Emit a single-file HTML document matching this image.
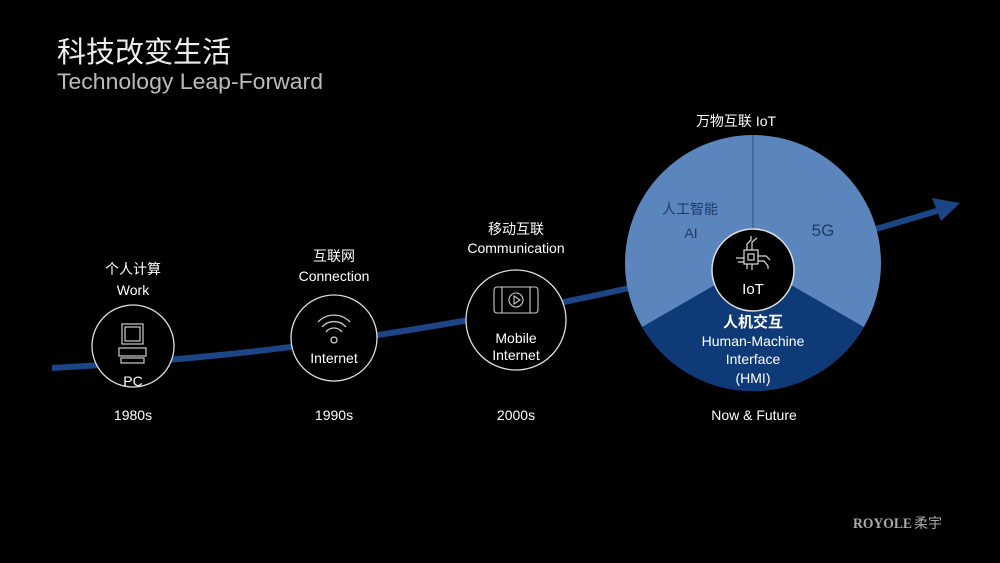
<!DOCTYPE html>
<html><head><meta charset="utf-8"><style>
html,body{margin:0;padding:0;background:#000;}
svg{display:block}
text{font-family:"Liberation Sans","Noto Sans CJK SC",sans-serif;}
</style></head><body>
<svg width="1000" height="563" viewBox="0 0 1000 563" xmlns="http://www.w3.org/2000/svg">
<rect width="1000" height="563" fill="#000"/>
<text x="57" y="62" font-size="29" fill="#eee">科技改变生活</text>
<text x="57" y="89" font-size="22.5" fill="#bbb" textLength="266" lengthAdjust="spacingAndGlyphs">Technology Leap-Forward</text>

<!-- curve -->
<path d="M52 368 C 200 360, 330 345, 480 318 S 700 270, 760 258 S 880 228, 940 210" fill="none" stroke="#1b4585" stroke-width="6"/>
<polygon points="960,203 932,198 941,221" fill="#1b4585"/>

<!-- big circle -->
<circle cx="753" cy="263" r="128" fill="#5b86bd"/>
<path d="M753 263 L864 327 A128 128 0 0 1 642 327 Z" fill="#0f3a78"/>
<line x1="753" y1="135" x2="753" y2="263" stroke="#34507a" stroke-width="1"/>
<circle cx="753" cy="270" r="41" fill="#000" stroke="#ddd" stroke-width="1.5"/>
<g stroke="#ddd" fill="none" stroke-width="1.2">
<rect x="744" y="250" width="14" height="14"/>
<rect x="748" y="254" width="6" height="6"/>
<path d="M747 250v-6l4-4v-4M752 250v-8l5-4M758 256h8l4 4M758 261h6l4 5v3M752 264v6M744 258h-8M744 262h-6M747 264v5"/>
</g>
<text x="753" y="294" font-size="15" fill="#fff" text-anchor="middle">IoT</text>
<text x="690" y="214" font-size="14" fill="#1f3a66" text-anchor="middle">人工智能</text>
<text x="691" y="238" font-size="14" fill="#1f3a66" text-anchor="middle">AI</text>
<text x="823" y="236" font-size="17" fill="#1f3a66" text-anchor="middle">5G</text>
<text x="753" y="327" font-size="15" fill="#fff" text-anchor="middle" font-weight="bold">人机交互</text>
<text x="753" y="346" font-size="14" fill="#fff" text-anchor="middle">Human-Machine</text>
<text x="753" y="364" font-size="14" fill="#fff" text-anchor="middle">Interface</text>
<text x="753" y="383" font-size="14" fill="#fff" text-anchor="middle">(HMI)</text>
<text x="736" y="126" font-size="14" fill="#fff" text-anchor="middle">万物互联 IoT</text>
<text x="754" y="420" font-size="14" fill="#fff" text-anchor="middle">Now &amp; Future</text>

<!-- PC -->
<circle cx="133" cy="346" r="41" fill="#000" stroke="#ddd" stroke-width="1.3"/>
<g stroke="#ccc" fill="none" stroke-width="1.2">
<rect x="122" y="324" width="21" height="20"/><rect x="125" y="327" width="15" height="14"/>
<rect x="119" y="348" width="27" height="8"/><rect x="121" y="358" width="23" height="5"/>
</g>
<text x="133" y="386" font-size="14" fill="#fff" text-anchor="middle">PC</text>
<text x="133" y="274" font-size="14" fill="#fff" text-anchor="middle">个人计算</text>
<text x="133" y="295" font-size="14" fill="#fff" text-anchor="middle">Work</text>
<text x="133" y="420" font-size="14" fill="#fff" text-anchor="middle">1980s</text>

<!-- Internet -->
<circle cx="334" cy="338" r="43" fill="#000" stroke="#ddd" stroke-width="1.3"/>
<g stroke="#ccc" fill="none" stroke-width="1.3">
<path d="M318 322 A22 22 0 0 1 350 322"/><path d="M322 327 A16 16 0 0 1 346 327"/><path d="M326 332 A10 10 0 0 1 342 332"/>
<circle cx="334" cy="340" r="3"/>
</g>
<text x="334" y="363" font-size="14" fill="#fff" text-anchor="middle">Internet</text>
<text x="334" y="261" font-size="14" fill="#fff" text-anchor="middle">互联网</text>
<text x="334" y="281" font-size="14" fill="#fff" text-anchor="middle">Connection</text>
<text x="334" y="420" font-size="14" fill="#fff" text-anchor="middle">1990s</text>

<!-- Mobile -->
<circle cx="516" cy="320" r="50" fill="#000" stroke="#ddd" stroke-width="1.3"/>
<g stroke="#ccc" fill="none" stroke-width="1.1">
<rect x="494" y="287" width="44" height="26" rx="3"/><line x1="502" y1="287" x2="502" y2="313"/><line x1="530" y1="287" x2="530" y2="313"/>
<circle cx="516" cy="300" r="7"/><path d="M514 296 L520 300 L514 304 Z"/>
</g>
<text x="516" y="343" font-size="14" fill="#fff" text-anchor="middle">Mobile</text>
<text x="516" y="360" font-size="14" fill="#fff" text-anchor="middle">Internet</text>
<text x="516" y="234" font-size="14" fill="#fff" text-anchor="middle">移动互联</text>
<text x="516" y="253" font-size="14" fill="#fff" text-anchor="middle">Communication</text>
<text x="516" y="420" font-size="14" fill="#fff" text-anchor="middle">2000s</text>

<text x="853" y="528" font-size="15" fill="#aaa" style="font-family:'Liberation Serif',serif;font-weight:bold" textLength="59" lengthAdjust="spacingAndGlyphs">ROYOLE</text>
<text x="914" y="528" font-size="14" fill="#aaa">柔宇</text>
</svg>
</body></html>
